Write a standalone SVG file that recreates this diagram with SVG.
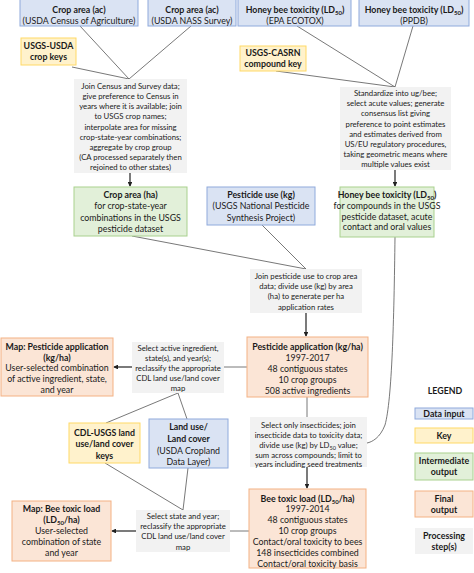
<svg xmlns="http://www.w3.org/2000/svg" width="474" height="573" viewBox="0 0 474 573">
<defs>
<style>
text{font-family:Lato,"Liberation Sans",sans-serif;fill:#1a1a1a;text-anchor:middle}
.t{font-size:8.8px}
.p{font-size:7.75px}
.b{font-weight:bold}
.in{fill:#dae3f3;stroke:#8faadc;stroke-width:1}
.key{fill:#fff2cc;stroke:#ffd966;stroke-width:1}
.mid{fill:#e2f0d9;stroke:#a9d18e;stroke-width:1}
.fin{fill:#fbe5d6;stroke:#f4b183;stroke-width:1}
.proc{fill:#f2f2f2;stroke:none}
.ln{fill:none;stroke:#555;stroke-width:0.8}
.ar{fill:none;stroke:#222;stroke-width:1.2;marker-end:url(#ah)}
</style>
<marker id="ah" viewBox="0 0 6 6" refX="5" refY="3" markerWidth="4" markerHeight="4" orient="auto" markerUnits="strokeWidth">
<path d="M0,0 L6,3 L0,6 z" fill="#222"/>
</marker>
</defs>
<rect width="474" height="573" fill="#fff"/>

<g id="connectors">
<line class="ln" x1="80" y1="26" x2="129" y2="79"/>
<line class="ln" x1="191" y1="26" x2="129" y2="79"/>
<line class="ln" x1="72" y1="67" x2="129" y2="79"/>
<line class="ln" x1="297" y1="26" x2="395" y2="87"/>
<line class="ln" x1="413" y1="26" x2="395" y2="87"/>
<line class="ln" x1="276" y1="71" x2="395" y2="87"/>
<line class="ar" x1="130" y1="173" x2="130" y2="186"/>
<line class="ar" x1="395" y1="170" x2="395" y2="186"/>
<line class="ln" x1="132" y1="236" x2="306" y2="269"/>
<line class="ln" x1="262" y1="225" x2="306" y2="269"/>
<path class="ln" d="M395,237 C394,320 392,400 385,425 C380,438 372,442 367,443"/>
<line class="ar" x1="306" y1="313" x2="306" y2="336"/>
<line class="ln" x1="307" y1="397" x2="307" y2="417"/>
<line class="ar" x1="307" y1="467" x2="307" y2="488"/>
<line class="ln" x1="247" y1="367" x2="224" y2="367"/>
<line class="ar" x1="132" y1="367" x2="114" y2="367"/>
<line class="ln" x1="178" y1="393" x2="106" y2="423"/>
<line class="ln" x1="178" y1="393" x2="187" y2="419"/>
<line class="ln" x1="105" y1="463" x2="183" y2="510"/>
<line class="ln" x1="188" y1="468" x2="183" y2="510"/>
<line class="ln" x1="249" y1="531" x2="230" y2="531"/>
<line class="ar" x1="136" y1="531" x2="112" y2="531"/>
</g>

<g id="census">
<rect class="in" x="20" y="-2" width="118" height="28"/>
<text class="t b" x="79" y="12.5">Crop area (ac)</text>
<text class="t" x="79" y="23.5">(USDA Census of Agriculture)</text>
</g>
<g id="nass">
<rect class="in" x="148" y="-2" width="88" height="28"/>
<text class="t b" x="192" y="12.5">Crop area (ac)</text>
<text class="t" x="192" y="23.5">(USDA NASS Survey)</text>
</g>
<g id="ecotox">
<rect class="in" x="238" y="-2" width="113" height="28"/>
<text class="t" x="295" y="12.5"><tspan class="b">Honey bee toxicity (LD</tspan><tspan class="b" font-size="6" dy="2">50</tspan><tspan class="b" dy="-2">)</tspan></text>
<text class="t" x="295" y="23.5">(EPA ECOTOX)</text>
</g>
<g id="ppdb">
<rect class="in" x="359" y="-2" width="110" height="28"/>
<text class="t" x="414" y="12.5"><tspan class="b">Honey bee toxicity (LD</tspan><tspan class="b" font-size="6" dy="2">50</tspan><tspan class="b" dy="-2">)</tspan></text>
<text class="t" x="414" y="23.5">(PPDB)</text>
</g>
<g id="cropkeys">
<rect class="key" x="21" y="38" width="55" height="27"/>
<text class="t b" x="48.5" y="49">USGS-USDA</text>
<text class="t b" x="48.5" y="60">crop keys</text>
</g>
<g id="casrn">
<rect class="key" x="240" y="46" width="66" height="25"/>
<text class="t b" x="273" y="56">USGS-CASRN</text>
<text class="t b" x="273" y="67">compound key</text>
</g>
<g id="proc-crop">
<rect class="proc" x="74" y="79" width="113" height="94"/>
<text class="p" x="130.5" y="89">Join Census and Survey data;</text>
<text class="p" x="130.5" y="99">give preference to  Census in</text>
<text class="p" x="130.5" y="109.2">years where it is available; join</text>
<text class="p" x="130.5" y="119.4">to USGS crop names;</text>
<text class="p" x="130.5" y="129.6">interpolate area for missing</text>
<text class="p" x="130.5" y="139.8">crop-state-year combinations;</text>
<text class="p" x="130.5" y="150">aggregate by crop group</text>
<text class="p" x="130.5" y="160.2">(CA processed separately then</text>
<text class="p" x="130.5" y="170.4">rejoined to other states)</text>
</g>
<g id="proc-tox">
<rect class="proc" x="340" y="87" width="111" height="83"/>
<text class="p" x="395.5" y="96">Standardize into ug/bee;</text>
<text class="p" x="395.5" y="106.2">select acute values; generate</text>
<text class="p" x="395.5" y="116.4">consensus list giving</text>
<text class="p" x="395.5" y="126.6">preference to point estimates</text>
<text class="p" x="395.5" y="136.8">and estimates derived from</text>
<text class="p" x="395.5" y="147">US/EU regulatory procedures,</text>
<text class="p" x="395.5" y="157.2">taking geometric means where</text>
<text class="p" x="395.5" y="167.4">multiple values exist</text>
</g>
<g id="croparea-ha">
<rect class="mid" x="74" y="187" width="113" height="49"/>
<text class="t b" x="130.5" y="198">Crop area (ha)</text>
<text class="t" x="130.5" y="209.3">for crop-state-year</text>
<text class="t" x="130.5" y="220.6">combinations in the USGS</text>
<text class="t" x="130.5" y="231.9">pesticide dataset</text>
</g>
<g id="pestuse">
<rect class="in" x="207" y="187" width="108" height="38"/>
<text class="t b" x="261" y="198">Pesticide use (kg)</text>
<text class="t" x="261" y="209.3">(USGS National Pesticide</text>
<text class="t" x="261" y="220.6">Synthesis Project)</text>
</g>
<g id="beetox">
<rect class="mid" x="340" y="187" width="94" height="50"/>
<text class="t" x="387" y="198"><tspan class="b">Honey bee toxicity (LD</tspan><tspan class="b" font-size="6" dy="2">50</tspan><tspan class="b" dy="-2">)</tspan></text>
<text class="t" x="387" y="209">for compounds in the USGS</text>
<text class="t" x="387" y="219.5">pesticide dataset, acute</text>
<text class="t" x="387" y="230">contact and oral values</text>
</g>
<g id="proc-join">
<rect class="proc" x="250" y="269" width="112" height="44"/>
<text class="p" x="306" y="279">Join pesticide use to crop area</text>
<text class="p" x="306" y="289.2">data; divide use (kg) by area</text>
<text class="p" x="306" y="299.4">(ha) to generate per ha</text>
<text class="p" x="306" y="309.6">application rates</text>
</g>
<g id="pestapp">
<rect class="fin" x="247" y="337" width="121" height="60"/>
<text class="t b" x="307.5" y="350">Pesticide application (kg/ha)</text>
<text class="t" x="307.5" y="361">1997-2017</text>
<text class="t" x="307.5" y="372">48 contiguous states</text>
<text class="t" x="307.5" y="383">10 crop groups</text>
<text class="t" x="307.5" y="394">508 active ingredients</text>
</g>
<g id="proc-insect">
<rect class="proc" x="250" y="417" width="117" height="50"/>
<text class="p" x="308.5" y="428">Select only insecticides; join</text>
<text class="p" x="308.5" y="438">insecticide data to toxicity data;</text>
<text class="p" x="308.5" y="448">divide use (kg) by LD<tspan font-size="5.5" dy="1.5">50</tspan><tspan dy="-1.5"> value;</tspan></text>
<text class="p" x="308.5" y="458">sum across compounds; limit to</text>
<text class="p" x="308.5" y="467">years including seed treatments</text>
</g>
<g id="beeload">
<rect class="fin" x="249" y="489" width="117" height="79"/>
<text class="t" x="307.5" y="501.5"><tspan class="b">Bee toxic load (LD</tspan><tspan class="b" font-size="6" dy="2">50</tspan><tspan class="b" dy="-2">/ha)</tspan></text>
<text class="t" x="307.5" y="511.5">1997-2014</text>
<text class="t" x="307.5" y="523">48 contiguous states</text>
<text class="t" x="307.5" y="534">10 crop groups</text>
<text class="t" x="307.5" y="545">Contact/oral toxicity to bees</text>
<text class="t" x="307.5" y="556">148 insecticides combined</text>
<text class="t" x="307.5" y="567">Contact/oral toxicity basis</text>
</g>
<g id="map-pest">
<rect class="fin" x="1" y="338" width="112" height="58"/>
<text class="t b" x="57" y="349.5">Map: Pesticide application</text>
<text class="t b" x="57" y="360.5">(kg/ha)</text>
<text class="t" x="57" y="370.5">User-selected combination</text>
<text class="t" x="57" y="381.5">of active ingredient, state,</text>
<text class="t" x="57" y="392.5">and year</text>
</g>
<g id="proc-map1">
<rect class="proc" x="132" y="342" width="92" height="51"/>
<text class="p" x="178" y="351">Select active ingredient,</text>
<text class="p" x="178" y="361">state(s), and year(s);</text>
<text class="p" x="178" y="371">reclassify the appropriate</text>
<text class="p" x="178" y="381">CDL land use/land cover</text>
<text class="p" x="178" y="391">map</text>
</g>
<g id="cdlkeys">
<rect class="key" x="69" y="423" width="71" height="40"/>
<text class="t b" x="104.5" y="436">CDL-USGS land</text>
<text class="t b" x="104.5" y="447">use/land cover</text>
<text class="t b" x="104.5" y="459">keys</text>
</g>
<g id="landuse">
<rect class="in" x="149" y="419" width="79" height="49"/>
<text class="t b" x="188.5" y="430">Land use/</text>
<text class="t b" x="188.5" y="442">Land cover</text>
<text class="t" x="188.5" y="453.5">(USDA Cropland</text>
<text class="t" x="188.5" y="464.5">Data Layer)</text>
</g>
<g id="proc-map2">
<rect class="proc" x="136" y="510" width="94" height="42"/>
<text class="p" x="183" y="519">Select state and year;</text>
<text class="p" x="183" y="529">reclassify the appropriate</text>
<text class="p" x="183" y="539">CDL land use/land cover</text>
<text class="p" x="183" y="549.5">map</text>
</g>
<g id="map-bee">
<rect class="fin" x="12" y="501" width="99" height="60"/>
<text class="t" x="61.5" y="512"><tspan class="b">Map: Bee toxic load</tspan></text>
<text class="t" x="61.5" y="523"><tspan class="b">(LD</tspan><tspan class="b" font-size="6" dy="2">50</tspan><tspan class="b" dy="-2">/ha)</tspan></text>
<text class="t" x="61.5" y="534">User-selected</text>
<text class="t" x="61.5" y="545">combination of state</text>
<text class="t" x="61.5" y="556">and year</text>
</g>
<g id="legend">
<text class="t b" x="445" y="394">LEGEND</text>
<rect class="in" x="415" y="408" width="58" height="11"/>
<text class="t b" x="444" y="417">Data input</text>
<rect class="key" x="415" y="428" width="58" height="15"/>
<text class="t b" x="444" y="439">Key</text>
<rect class="mid" x="415" y="453" width="58" height="27"/>
<text class="t b" x="444" y="464">Intermediate</text>
<text class="t b" x="444" y="475">output</text>
<rect class="fin" x="415" y="491" width="58" height="26"/>
<text class="t b" x="444" y="502">Final</text>
<text class="t b" x="444" y="513">output</text>
<rect class="proc" x="415" y="528" width="58" height="26"/>
<text class="t b" x="444" y="539">Processing</text>
<text class="t b" x="444" y="550">step(s)</text>
</g>
</svg>
